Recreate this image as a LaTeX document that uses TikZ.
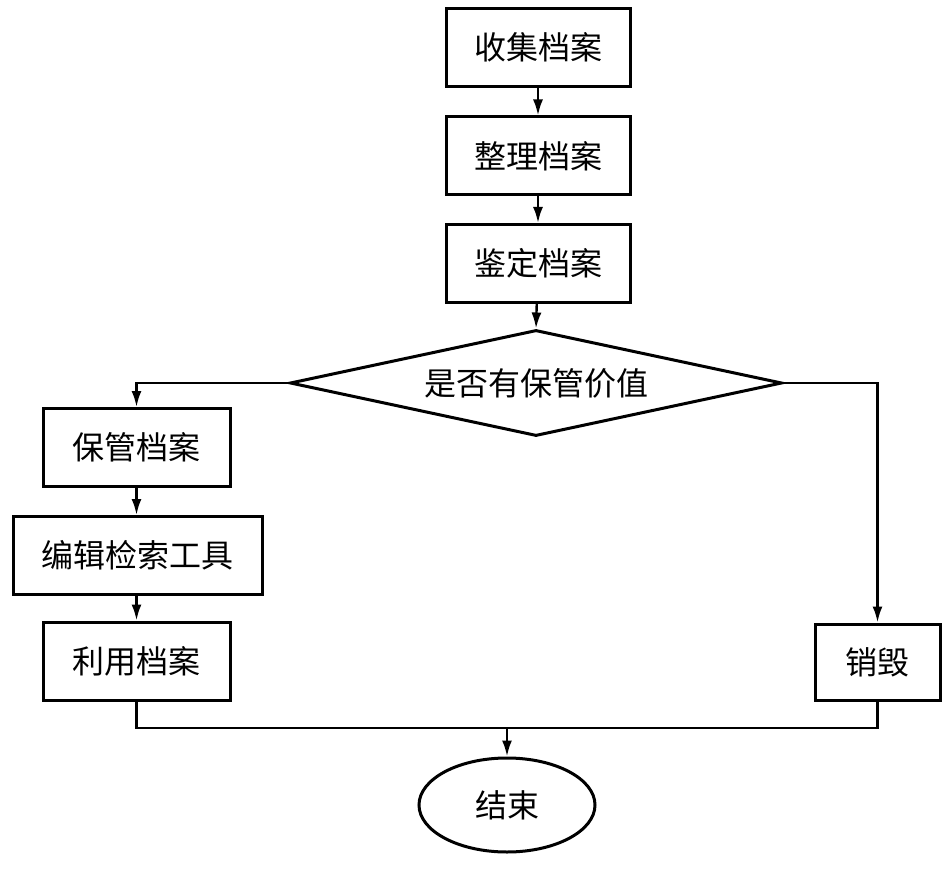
\documentclass[tikz,border=0pt]{standalone}
\usepackage{fontspec}
\setmainfont{Noto Sans CJK SC}
\usetikzlibrary{arrows.meta,positioning,shapes.geometric,calc}

\begin{document}
\begin{tikzpicture}[x=1pt, y=-1pt,
    every node/.style={font=\fontsize{32}{38}\selectfont},
    box/.style={draw, line width=3pt, minimum height=78pt, inner sep=0pt},
    judge/.style={draw, diamond, line width=3pt, aspect=4.64, minimum width=492pt, minimum height=106pt, inner sep=0pt},
    term/.style={draw, ellipse, line width=3pt, minimum width=176pt, minimum height=94pt, inner sep=0pt},
    arr/.style={-{Latex[length=16pt, width=10pt]}, line width=2.4pt},
    line/.style={line width=2.4pt}]
    \useasboundingbox (0,0) rectangle (945,869);
    \node[box, minimum width=184pt] (collect) at (538,47.5) {收集档案};
    \node[box, minimum width=184pt] (sort)    at (538,156)  {整理档案};
    \node[box, minimum width=184pt] (assess)  at (538,263.5){鉴定档案};
    \node[judge] (value) at (536,383) {是否有保管价值};
    \node[box, minimum width=187pt] (keep)    at (136.5,447.5) {保管档案};
    \node[box, minimum width=249pt] (index)   at (137.5,555.5) {编辑检索工具};
    \node[box, minimum width=187pt] (use)     at (136.5,661)   {利用档案};
    \node[box, minimum width=125pt, minimum height=76pt] (destroy) at (877.5,662) {销毁};
    \node[term] (finish) at (507,805) {结束};
    \coordinate (merge) at (507,728);
    \draw[arr] (collect) -- (sort);
    \draw[arr] (sort) -- (assess);
    \draw[arr] (assess) -- (value.north);
    \draw[arr] (value.west) -| (keep.north);
    \draw[arr] (value.east) -| (destroy.north);
    \draw[arr] (keep) -- (keep |- index.north);
    \draw[arr] (keep |- index.south) -- (use);
    \draw[line] (use.south) |- (merge) -| (destroy.south);
    \draw[arr] (merge) -- (finish.north);
  \end{tikzpicture}
\end{document}
